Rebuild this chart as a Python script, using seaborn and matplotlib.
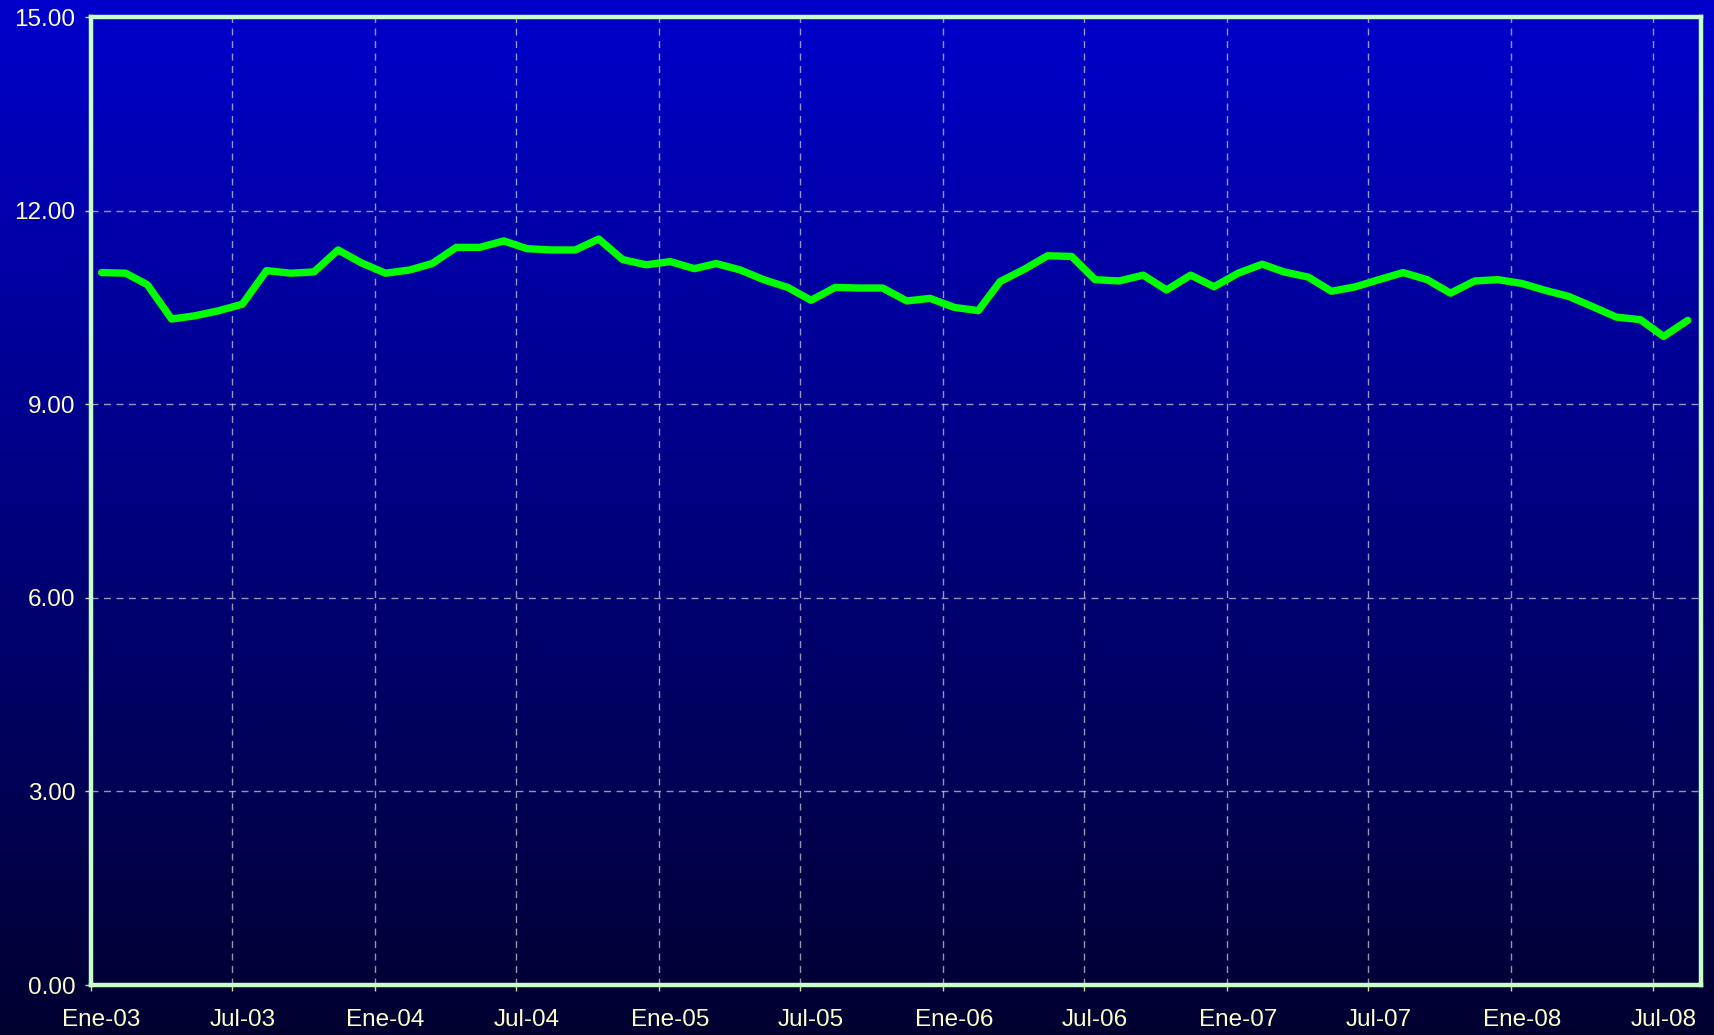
import numpy as np
import pandas as pd
import matplotlib
matplotlib.use("Agg")
import matplotlib.pyplot as plt
import seaborn as sns

# ---- data ----
start_month = "2003-01-01"
end_month = "2008-08-01"
values = [11.04, 11.03, 10.85, 10.32, 10.37, 10.45, 10.55, 11.07, 11.03, 11.05, 11.39, 11.19,
          11.03, 11.08, 11.18, 11.43, 11.43, 11.53, 11.41, 11.39, 11.39, 11.56, 11.24, 11.16,
          11.21, 11.10, 11.18, 11.08, 10.93, 10.81, 10.61, 10.81, 10.80, 10.80, 10.60, 10.64,
          10.50, 10.45, 10.90, 11.09, 11.30, 11.29, 10.93, 10.91, 11.00, 10.77, 11.00, 10.82,
          11.03, 11.17, 11.05, 10.97, 10.75, 10.82, 10.93, 11.04, 10.93, 10.72, 10.91, 10.93,
          10.87, 10.76, 10.67, 10.51, 10.35, 10.31, 10.05, 10.30]
tick_labels = ["Ene-03", "Jul-03", "Ene-04", "Jul-04", "Ene-05", "Jul-05", "Ene-06",
               "Jul-06", "Ene-07", "Jul-07", "Ene-08", "Jul-08"]
y_ticks = [0, 3, 6, 9, 12, 15]

months = pd.date_range(start_month, end_month, freq="MS")
df = pd.DataFrame({"fecha": months + pd.Timedelta(days=14), "valor": values})

sns.set_style("dark")
plt.rcParams["font.family"] = ["Liberation Sans", "DejaVu Sans"]

W, H = 1715, 1035
fig = plt.figure(figsize=(W / 100, H / 100), dpi=100)

# gradient background
bg = fig.add_axes([0, 0, 1, 1], zorder=0)
grad = np.linspace(0, 1, 256).reshape(-1, 1)
top = np.array([0, 0, 204]) / 255.0
bot = np.array([0, 0, 48]) / 255.0
img = (top[None, None, :] * (1 - grad[:, :, None]) + bot[None, None, :] * grad[:, :, None])
bg.imshow(img, aspect="auto", extent=[0, 1, 0, 1])
bg.set_axis_off()

ax = fig.add_axes([90.7 / W, 1 - 985 / H, (1701 - 90.7) / W, (985 - 17) / H], zorder=1)
ax.set_facecolor("none")

sns.lineplot(data=df, x="fecha", y="valor", ax=ax, color="#00FF00", linewidth=5.3,
             solid_joinstyle="round", solid_capstyle="round", zorder=3)

ax.set_ylim(0, 15)
ax.set_xlim(pd.Timestamp("2003-01-01"), pd.Timestamp("2008-09-01"))
ax.set_yticks(y_ticks)
ax.set_yticklabels([f"{v:.2f}" for v in y_ticks])

major = pd.date_range("2003-01-01", "2008-07-01", freq="6MS")
ax.set_xticks(major)
ax.set_xticklabels([])
ax.set_xticks(major + pd.Timedelta(days=14), minor=True)
ax.set_xticklabels(tick_labels, minor=True)

ax.set_xlabel("")
ax.set_ylabel("")

ax.grid(True, which="major", color="#C8C8DC", alpha=0.75, linewidth=1.0,
        linestyle=(0, (5, 4)), zorder=1)
ax.grid(False, which="minor")

ax.tick_params(axis="x", which="major", direction="out", length=4, width=1,
               color="#D8D890", bottom=True)
ax.tick_params(axis="x", which="minor", length=0, pad=17, labelsize=17.5,
               labelcolor="#FFFFCC", bottom=True)
ax.tick_params(axis="y", which="major", direction="out", length=4, width=1,
               color="#D8D8B0", left=True, pad=7, labelsize=17.5, labelcolor="#FFFFCC")

for s in ax.spines.values():
    s.set_visible(True)
    s.set_color("#C8FFC8")
    s.set_linewidth(3.2)
    s.set_zorder(4)

fig.savefig("out.png", dpi=100)
